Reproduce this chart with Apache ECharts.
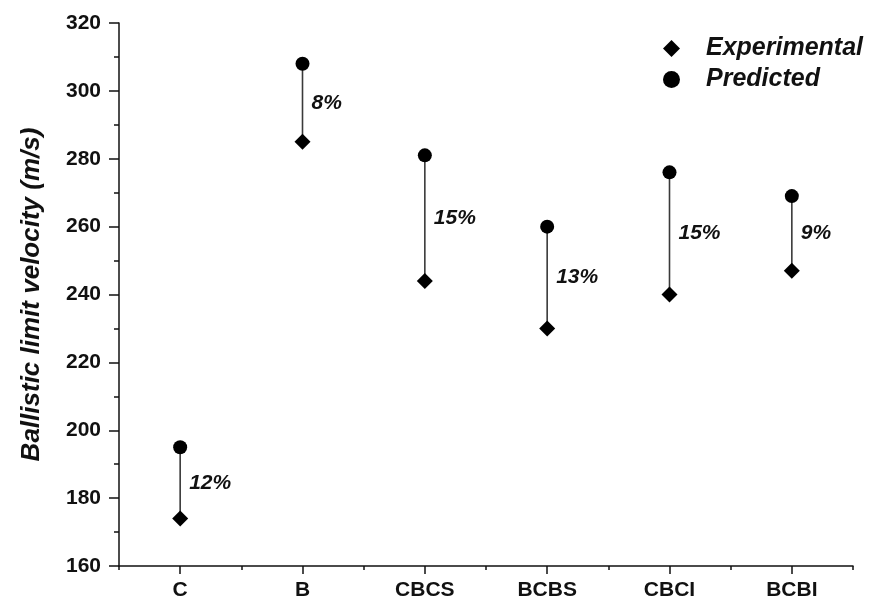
<!DOCTYPE html>
<html>
<head>
<meta charset="utf-8">
<script src="https://cdn.jsdelivr.net/npm/echarts@6/dist/echarts.min.js"></script>
<style>
  html, body { margin: 0; padding: 0; background: #fff; }
  #chart { width: 875px; height: 604px; }
</style>
</head>
<body>
<div id="chart"></div>
<script>
// data
const categories = ['C', 'B', 'CBCS', 'BCBS', 'CBCI', 'BCBI'];
const experimental = [174, 285, 244, 230, 240, 247];
const predicted = [195, 308, 281, 260, 276, 269];
const gapLabels = ['12%', '8%', '15%', '13%', '15%', '9%'];

const FONT = '"Liberation Sans", Arial, sans-serif';

let chart = echarts.init(document.getElementById('chart'));

// connector lines + percentage text
const linkData = categories.map((c, i) => [i, experimental[i], predicted[i]]);

let option = {
  animation: false,
  grid: { left: 119, right: 22, top: 23, bottom: 38 },
  legend: {
    top: 31,
    left: 658,
    orient: 'vertical',
    itemGap: 6,
    itemWidth: 17,
    itemHeight: 17,
    textStyle: { fontFamily: FONT, fontSize: 25, fontWeight: 'bold', fontStyle: 'italic', color: '#111', padding: [0, 0, 0, 21] },
    data: [
      { name: 'Experimental', icon: 'diamond' },
      { name: 'Predicted', icon: 'circle' }
    ]
  },
  xAxis: [
    {
      type: 'category',
      data: categories,
      boundaryGap: true,
      axisLine: { lineStyle: { color: '#111', width: 1.5 } },
      axisTick: { show: true, alignWithLabel: true, length: 8, lineStyle: { color: '#111', width: 1.5 } },
      axisLabel: { margin: 14, color: '#111', fontFamily: FONT, fontSize: 21, fontWeight: 'bold' },
      splitLine: { show: false }
    },
    {
      type: 'category',
      data: categories,
      position: 'bottom',
      boundaryGap: true,
      axisLine: { show: false },
      axisTick: { show: true, length: 4, lineStyle: { color: '#111', width: 1.5 } },
      axisLabel: { show: false },
      splitLine: { show: false }
    }
  ],
  yAxis: {
    type: 'value',
    min: 160,
    max: 320,
    interval: 20,
    name: 'Ballistic limit velocity (m/s)',
    nameLocation: 'middle',
    nameGap: 74,
    nameTextStyle: { fontFamily: FONT, fontSize: 26, fontWeight: 'bold', fontStyle: 'italic', color: '#111' },
    axisLine: { show: true, lineStyle: { color: '#111', width: 1.5 } },
    axisTick: { show: true, length: 10, lineStyle: { color: '#111', width: 1.5 } },
    minorTick: { show: true, splitNumber: 2, length: 5, lineStyle: { color: '#111', width: 1.5 } },
    axisLabel: { margin: 18, color: '#111', fontFamily: FONT, fontSize: 21, fontWeight: 'bold' },
    splitLine: { show: false }
  },
  series: [
    {
      type: 'custom',
      silent: true,
      z: 1,
      data: linkData,
      encode: { x: 0, y: [1, 2] },
      renderItem: function (params, api) {
        const x = api.value(0);
        const p1 = api.coord([x, api.value(1)]);
        const p2 = api.coord([x, api.value(2)]);
        return {
          type: 'group',
          children: [
            {
              type: 'line',
              shape: { x1: p1[0], y1: p1[1], x2: p2[0], y2: p2[1] },
              style: { stroke: '#3a3a3a', lineWidth: 1.6 }
            },
            {
              type: 'text',
              style: {
                text: gapLabels[params.dataIndex],
                x: p1[0] + 9,
                y: (p1[1] + p2[1]) / 2,
                verticalAlign: 'middle',
                font: 'italic bold 21px ' + FONT,
                fill: '#111'
              }
            }
          ]
        };
      }
    },
    {
      name: 'Experimental',
      type: 'scatter',
      z: 3,
      symbol: 'diamond',
      symbolSize: 16,
      itemStyle: { color: '#000', opacity: 1 },
      data: experimental
    },
    {
      name: 'Predicted',
      type: 'scatter',
      z: 3,
      symbol: 'circle',
      symbolSize: 14,
      itemStyle: { color: '#000', opacity: 1 },
      data: predicted
    }
  ]
};

chart.setOption(option);
</script>
</body>
</html>
